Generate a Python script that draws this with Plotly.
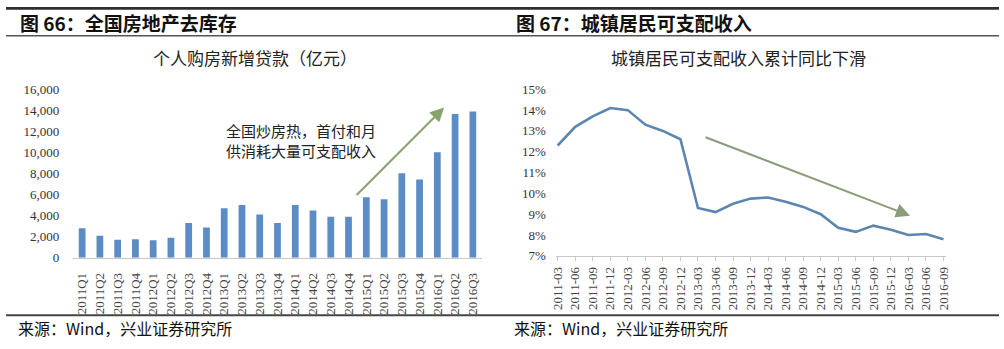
import plotly.graph_objects as go

W, H = 1004, 349

# ---- data ----
quarters = ["2011Q1", "2011Q2", "2011Q3", "2011Q4", "2012Q1", "2012Q2", "2012Q3", "2012Q4",
            "2013Q1", "2013Q2", "2013Q3", "2013Q4", "2014Q1", "2014Q2", "2014Q3", "2014Q4",
            "2015Q1", "2015Q2", "2015Q3", "2015Q4", "2016Q1", "2016Q2", "2016Q3"]
loans = [2800, 2100, 1700, 1750, 1650, 1900, 3300, 2880,
         4700, 5000, 4100, 3300, 5000, 4480, 3900, 3900,
         5750, 5550, 8030, 7420, 10030, 13650, 13900]

months = ["2011-03", "2011-06", "2011-09", "2011-12", "2012-03", "2012-06", "2012-09", "2012-12",
          "2013-03", "2013-06", "2013-09", "2013-12", "2014-03", "2014-06", "2014-09", "2014-12",
          "2015-03", "2015-06", "2015-09", "2015-12", "2016-03", "2016-06", "2016-09"]
income_yoy = [12.3, 13.2, 13.7, 14.1, 14.0, 13.3, 13.0, 12.6,
              9.3, 9.1, 9.5, 9.75, 9.8, 9.6, 9.35, 9.0,
              8.35, 8.15, 8.45, 8.25, 8.0, 8.05, 7.8]

left_yticks = [0, 2000, 4000, 6000, 8000, 10000, 12000, 14000, 16000]
left_ytext = ["0", "2,000", "4,000", "6,000", "8,000", "10,000", "12,000", "14,000", "16,000"]
right_yticks = [7, 8, 9, 10, 11, 12, 13, 14, 15]
right_ytext = ["7%", "8%", "9%", "10%", "11%", "12%", "13%", "14%", "15%"]

CJK = "Noto Sans CJK SC"
SERIF = "Liberation Serif"


def fx(px):
    return px / W


def fy(py):
    return 1 - py / H


fig = go.Figure()

fig.add_trace(go.Bar(x=quarters, y=loans, marker=dict(color="#5B8CC5", line=dict(width=0)),
                     xaxis="x", yaxis="y", showlegend=False))
fig.add_trace(go.Scatter(x=list(range(len(months))), y=income_yoy, mode="lines",
                         line=dict(color="#5B86AF", width=2.6), xaxis="x2", yaxis="y2",
                         showlegend=False))

fig.update_layout(
    width=W, height=H, margin=dict(l=0, r=0, t=0, b=0),
    paper_bgcolor="white", plot_bgcolor="white",
    bargap=0.62,
    xaxis=dict(domain=[fx(68), fx(481)], type="category", showline=True, linecolor="#c8c8c8",
               linewidth=1, ticks="", tickangle=-90, showgrid=False,
               tickfont=dict(family=SERIF, size=13, color="#444"), ticklabelstandoff=9),
    yaxis=dict(domain=[fy(262), fy(86)], range=[0, 16000], tickvals=left_yticks, ticktext=left_ytext,
               showgrid=False, zeroline=False, showline=False,
               tickfont=dict(family=SERIF, size=13, color="#333"), ticklabelstandoff=13),
    xaxis2=dict(domain=[fx(556), fx(950)], range=[-0.1, 22.12], tickvals=list(range(len(months))),
                ticktext=months, tickangle=-90, showline=True, linecolor="#c8c8c8", linewidth=1,
                ticks="outside", ticklen=4, tickcolor="#c8c8c8", showgrid=False, zeroline=False,
                tickfont=dict(family=SERIF, size=13, color="#444"), anchor="y2", ticklabelstandoff=1),
    yaxis2=dict(domain=[fy(260), fy(86)], range=[7, 15], tickvals=right_yticks, ticktext=right_ytext,
                showgrid=False, zeroline=False, showline=False, anchor="x2",
                tickfont=dict(family=SERIF, size=13, color="#333"), ticklabelstandoff=9),
)

shapes = [
    dict(type="rect", xref="paper", yref="paper", x0=0, x1=1, y0=fy(3), y1=1,
         fillcolor="#2e2e2e", line=dict(width=0)),
    dict(type="line", xref="paper", yref="paper", x0=0, x1=1, y0=fy(30), y1=fy(30),
         line=dict(color="#555", width=1.5)),
    dict(type="line", xref="paper", yref="paper", x0=0, x1=1, y0=fy(322), y1=fy(322),
         line=dict(color="#444", width=2)),
]
fig.update_layout(shapes=shapes)

ann = []
# headers
ann.append(dict(text="<b>图 66：全国房地产去库存</b>", x=fx(12), y=fy(16), xanchor="left", yanchor="middle",
                font=dict(family=CJK, size=19, color="#111")))
ann.append(dict(text="<b>图 67：城镇居民可支配收入</b>", x=fx(514), y=fy(16), xanchor="left", yanchor="middle",
                font=dict(family=CJK, size=19, color="#111")))
# chart titles
ann.append(dict(text="个人购房新增贷款（亿元）", x=fx(252), y=fy(53), xanchor="center", yanchor="middle",
                font=dict(family=CJK, size=17, color="#222")))
ann.append(dict(text="城镇居民可支配收入累计同比下滑", x=fx(741), y=fy(53), xanchor="center", yanchor="middle",
                font=dict(family=CJK, size=17, color="#222")))
# sources
ann.append(dict(text="来源：Wind，兴业证券研究所", x=fx(10), y=fy(335), xanchor="left", yanchor="middle",
                font=dict(family=CJK, size=16, color="#111")))
ann.append(dict(text="来源：Wind，兴业证券研究所", x=fx(512), y=fy(335), xanchor="left", yanchor="middle",
                font=dict(family=CJK, size=16, color="#111")))
# callout text (two lines in one annotation)
ann.append(dict(text="全国炒房热，首付和月<br>供消耗大量可支配收入", x=fx(220), y=fy(139.5),
                xanchor="left", yanchor="middle", align="left",
                font=dict(family=CJK, size=15, color="#222")))
# arrows (head position in paper coords, tail as pixel offset)
ann.append(dict(text="", x=fx(443), y=fy(105), ax=354 - 443, ay=194 - 105, axref="pixel", ayref="pixel",
                showarrow=True, arrowhead=2, arrowsize=1.4, arrowwidth=2, arrowcolor="#86A46A"))
ann.append(dict(text="", x=fx(914), y=fy(218), ax=708 - 914, ay=139 - 218, axref="pixel", ayref="pixel",
                showarrow=True, arrowhead=2, arrowsize=1.4, arrowwidth=2, arrowcolor="#8A9C78"))
for a in ann:
    a.setdefault("xref", "paper")
    a.setdefault("yref", "paper")
    a.setdefault("showarrow", False)
fig.update_layout(annotations=ann)

fig.write_html("out.html")
